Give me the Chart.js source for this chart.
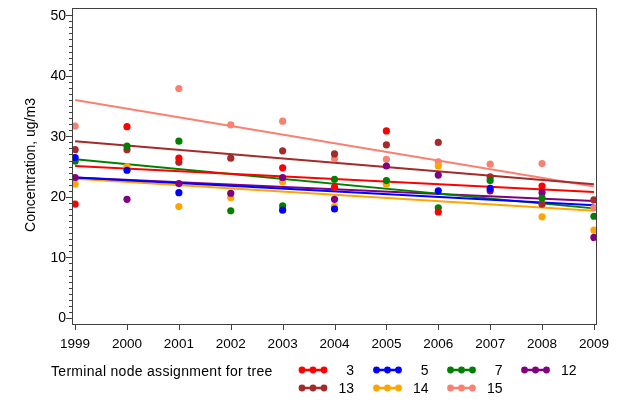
<!DOCTYPE html>
<html>
<head>
<meta charset="utf-8">
<script src="https://cdn.jsdelivr.net/npm/chart.js@4.4.1/dist/chart.umd.min.js"></script>
<style>
html,body{margin:0;padding:0;background:#fff;}
#wrap{width:625px;height:401px;position:relative;}
</style>
</head>
<body>
<div id="wrap"><canvas id="c" width="625" height="401"></canvas></div>
<script>
// ---- data ----
const years = [1999, 2000, 2001, 2002, 2003, 2004, 2005, 2006, 2007, 2008, 2009];
const node3  = [18.8, 31.6, 26.4, null, 24.8, 21.6, 30.9, 17.5, null, 21.8, null];
const node5  = [26.5, 24.4, 20.7, null, 17.8, 18.0, null, 21.0, 21.4, null, null];
const node7  = [25.9, 28.4, 29.2, 17.7, 18.5, 22.9, 22.7, 18.2, 22.7, 19.8, 16.8];
const node12 = [23.2, 19.6, 22.2, 20.6, 23.2, 19.6, 25.1, 23.6, 21.0, 20.7, 13.3];
const node13 = [27.8, 27.8, 25.7, 26.4, 27.6, 27.1, 28.6, 29.0, 23.3, 18.8, 19.5];
const node14 = [22.1, 25.0, 18.4, 19.9, 22.5, 18.4, 22.1, 25.1, null, 16.7, 14.5];
const node15 = [31.7, null, 37.9, 31.9, 32.5, 26.3, 26.2, 25.8, 25.4, 25.5, 18.2];
// fitted trend line values at 1999 and 2009
const trendStart = [25.1, 23.2, 26.2, 23.2, 29.2, 23.0, 36.0];
const trendEnd   = [20.8, 18.6, 18.1, 19.3, 22.1, 17.7, 21.7];
const seriesNames = ['3', '5', '7', '12', '13', '14', '15'];
const yTickLabels = [0, 10, 20, 30, 40, 50];
const xTickLabels = years;
const legendTitle = 'Terminal node assignment for tree';
const yTitle = 'Concentration, ug/m3';

const seriesValues = [node3, node5, node7, node12, node13, node14, node15];
const colors = ['#FF0000', '#0000FF', '#008000', '#800080', '#A52A2A', '#FFA500', '#FA8072'];

const FONT = '"Liberation Sans", Arial, sans-serif';

const datasets = [];
seriesValues.forEach((vals, i) => {
  datasets.push({
    type: 'scatter',
    label: seriesNames[i],
    data: years.map((y, j) => vals[j] === null ? null : {x: y, y: vals[j]}).filter(p => p),
    backgroundColor: colors[i],
    borderColor: colors[i],
    pointRadius: 3.6,
    pointBorderWidth: 0,
    showLine: false,
    order: 1
  });
});
seriesValues.forEach((vals, i) => {
  datasets.push({
    type: 'line',
    label: seriesNames[i] + ' fit',
    data: [{x: years[0], y: trendStart[i]}, {x: years[years.length - 1], y: trendEnd[i]}],
    borderColor: colors[i],
    borderWidth: 2,
    pointRadius: 0,
    fill: false,
    order: 2
  });
});

const decor = {
  id: 'decor',
  afterDraw(chart) {
    const ctx = chart.ctx;
    const a = chart.chartArea;
    const xs = chart.scales.x, ys = chart.scales.y;
    ctx.save();
    // frame
    ctx.strokeStyle = '#404040';
    ctx.lineWidth = 1;
    ctx.strokeRect(Math.round(a.left) + 0.5, Math.round(a.top) + 0.5,
                   Math.round(a.right - a.left), Math.round(a.bottom - a.top));
    // y ticks
    ctx.beginPath();
    for (let v = 0; v <= 50; v++) {
      const py = Math.round(ys.getPixelForValue(v)) + 0.5;
      const len = (v % 10 === 0) ? 6 : 3;
      ctx.moveTo(a.left - len, py);
      ctx.lineTo(a.left, py);
    }
    // x ticks
    xTickLabels.forEach(yr => {
      const px = Math.round(xs.getPixelForValue(yr)) + 0.5;
      ctx.moveTo(px, a.bottom);
      ctx.lineTo(px, a.bottom + 6);
    });
    ctx.stroke();
    ctx.fillStyle = '#000';
    ctx.font = '14px ' + FONT;
    ctx.textAlign = 'right';
    ctx.textBaseline = 'middle';
    yTickLabels.forEach(v => {
      ctx.fillText(String(v), a.left - 6, ys.getPixelForValue(v) + 0.5);
    });
    ctx.font = '13.5px ' + FONT;
    ctx.textAlign = 'center';
    xTickLabels.forEach(yr => {
      ctx.fillText(String(yr), xs.getPixelForValue(yr), 344);
    });
    // y title
    ctx.save();
    ctx.translate(31, 165);
    ctx.rotate(-Math.PI / 2);
    ctx.font = '14px ' + FONT;
    ctx.textAlign = 'center';
    ctx.textBaseline = 'middle';
    ctx.fillText(yTitle, 0, 0);
    ctx.restore();
    // legend
    ctx.font = '14px ' + FONT;
    ctx.textAlign = 'left';
    ctx.textBaseline = 'middle';
    ctx.save();
    try { ctx.letterSpacing = '0.3px'; } catch (e) {}
    ctx.fillText(legendTitle, 51, 372);
    ctx.restore();
    const colX = [298, 372.5, 446.5, 520.5];
    const rowY = [370, 388];
    seriesNames.forEach((name, i) => {
      const r = Math.floor(i / 4), c = i % 4;
      const x0 = colX[c], y0 = rowY[r];
      ctx.strokeStyle = colors[i];
      ctx.lineWidth = 2.5;
      ctx.beginPath();
      ctx.moveTo(x0 + 2, y0);
      ctx.lineTo(x0 + 28, y0);
      ctx.stroke();
      ctx.fillStyle = colors[i];
      [x0 + 4, x0 + 15, x0 + 26].forEach(dx => {
        ctx.beginPath();
        ctx.arc(dx, y0, 3.4, 0, Math.PI * 2);
        ctx.fill();
      });
      ctx.fillStyle = '#000';
      ctx.textAlign = 'right';
      ctx.fillText(name, x0 + 56, y0 + 1);
      ctx.textAlign = 'left';
    });
    ctx.restore();
  }
};

new Chart(document.getElementById('c'), {
  data: {datasets},
  options: {
    responsive: false,
    animation: false,
    layout: {padding: {left: 72, right: 29, top: 8, bottom: 77}},
    plugins: {legend: {display: false}, tooltip: {enabled: false}},
    scales: {
      x: {type: 'linear', display: false, min: 1998.94, max: 2009.04},
      y: {type: 'linear', display: false, min: -1, max: 51.2}
    }
  },
  plugins: [decor]
});
</script>
</body>
</html>
